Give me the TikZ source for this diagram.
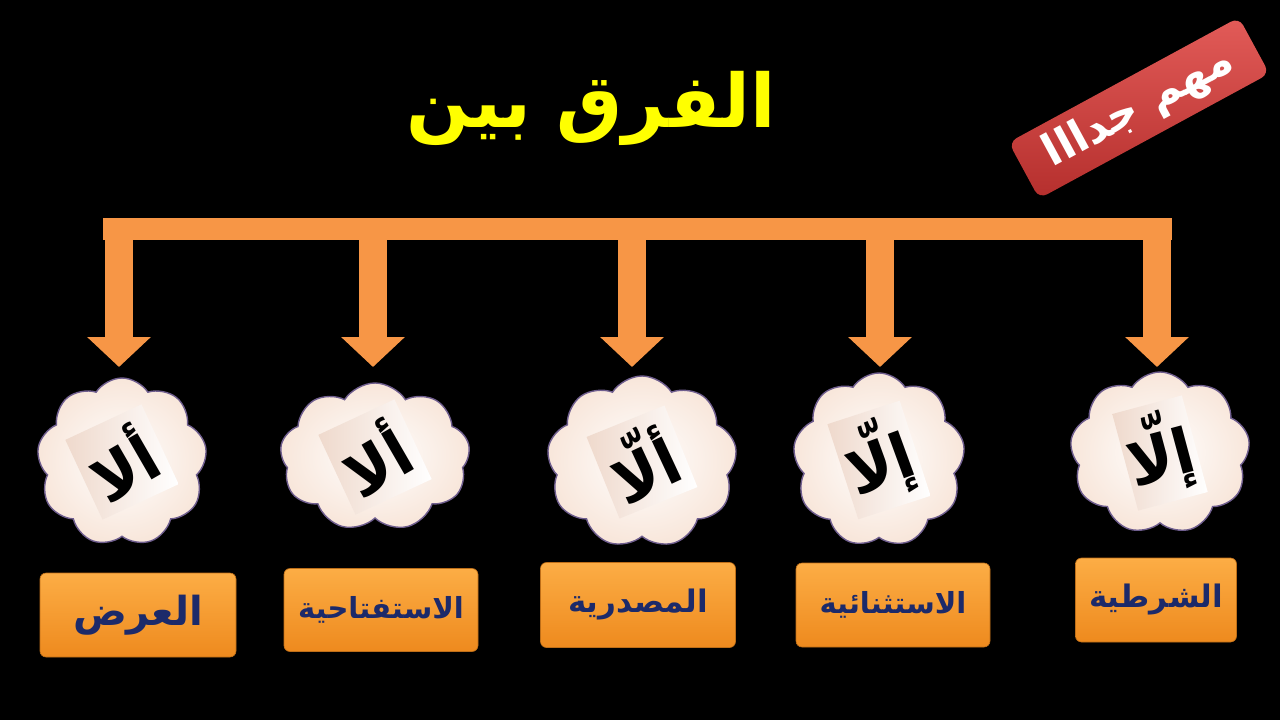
\documentclass[tikz,border=0pt]{standalone}
\usepackage{fontspec}
\usetikzlibrary{shapes.symbols,arrows.meta}
\newfontfamily\arabicfont[Script=Arabic]{DejaVu Sans}
\TeXXeTstate=1
\definecolor{barorange}{HTML}{F79646}
\definecolor{boxtop}{HTML}{FCAD45}
\definecolor{boxbot}{HTML}{EE8A1E}
\definecolor{navy}{HTML}{1C2A6A}
\definecolor{cloudline}{HTML}{6F5E8E}
\definecolor{cloudfill}{HTML}{F8E6DA}
\definecolor{paper}{HTML}{EFD9CC}
\definecolor{badgetop}{HTML}{E25B58}
\definecolor{badgebot}{HTML}{B52F2D}
\definecolor{titleyellow}{HTML}{FFFF00}
\tikzset{
  bararrow/.style={draw=barorange,line width=28pt,-{Triangle[length=30pt,width=62pt]}},
  cloudshape/.style={cloud,cloud puffs=9,cloud puff arc=115,aspect=1,inner sep=0pt,
    draw=cloudline,line width=1.4pt,inner color=white,outer color=cloudfill},
  paperbox/.style={rectangle,minimum width=84,minimum height=88,left color=paper,right color=white,draw=none},
  cloudtext/.style={text=black,font=\arabicfont\bfseries\fontsize{62}{66}\selectfont,inner sep=0pt},
  labelbox/.style={rectangle,rounded corners=6pt,top color=boxtop,bottom color=boxbot,
    draw=boxbot!80!black,line width=0.6pt,text=navy},
}
\begin{document}
\begin{tikzpicture}[x=1pt,y=-1pt]
\fill[black] (0,0) rectangle (1280,720);
\useasboundingbox (0,0) rectangle (1280,720);

% title
\node[text=titleyellow,font=\arabicfont\bfseries\fontsize{74}{80}\selectfont] (title) at (591,108) {\beginR الفرق بين\endR};

% badge
\node[rectangle,rounded corners=9pt,rotate=28.5,minimum width=262,minimum height=64,
  top color=badgetop,bottom color=badgebot,text=white,
  font=\arabicfont\bfseries\fontsize{44}{48}\selectfont] (badge) at (1139,108) {\beginR مهم جدااا\endR};

% horizontal bar
\node[rectangle,fill=barorange,minimum width=1069,minimum height=22,inner sep=0pt] (bar) at (637.5,229) {};

% arrow start / end coordinates
\foreach \i/\x in {1/119,2/373,3/632,4/880,5/1157}{
  \coordinate (s\i) at (\x,236);
  \coordinate (t\i) at (\x,367);
}
\foreach \i in {1,...,5}{\draw[bararrow] (s\i) -- (t\i);}

% clouds
\node[cloudshape,minimum width=170,minimum height=168] (c1) at (122,462) {};
\node[cloudshape,minimum width=190,minimum height=148] (c2) at (375,457) {};
\node[cloudshape,minimum width=190,minimum height=172] (c3) at (642,462) {};
\node[cloudshape,minimum width=172,minimum height=174] (c4) at (879,460) {};
\node[cloudshape,minimum width=180,minimum height=162] (c5) at (1160,453) {};

% paper
\node[paperbox,rotate=25] (p1) at (c1) {};
\node[paperbox,rotate=25] (p2) at (c2) {};
\node[paperbox,rotate=22] (p3) at (c3) {};
\node[paperbox,rotate=18,minimum width=76,minimum height=100] (p4) at (c4) {};
\node[paperbox,rotate=15,minimum width=72,minimum height=100] (p5) at (c5) {};

% cloud words
\node[cloudtext,rotate=30] (w1) at (c1) {\beginR ألا\endR};
\node[cloudtext,rotate=30] (w2) at (c2) {\beginR ألا\endR};
\node[cloudtext,rotate=25] (w3) at (c3) {\beginR ألّا\endR};
\node[cloudtext,rotate=20] (w4) at (c4) {\beginR إلّا\endR};
\node[cloudtext,rotate=15] (w5) at (c5) {\beginR إلّا\endR};

% label boxes
\node[labelbox,minimum width=196,minimum height=84,font=\arabicfont\bfseries\fontsize{40}{44}\selectfont] (b1) at (138,615) {\beginR العرض\endR};
\node[labelbox,minimum width=194,minimum height=83,font=\arabicfont\bfseries\fontsize{29}{32}\selectfont] (b2) at (381,610) {\beginR الاستفتاحية\endR};
\node[labelbox,minimum width=195,minimum height=85,font=\arabicfont\bfseries\fontsize{31}{34}\selectfont] (b3) at (638,605) {\beginR المصدرية\endR};
\node[labelbox,minimum width=194,minimum height=84,font=\arabicfont\bfseries\fontsize{29}{32}\selectfont] (b4) at (893,605) {\beginR الاستثنائية\endR};
\node[labelbox,minimum width=161,minimum height=84,font=\arabicfont\bfseries\fontsize{31}{34}\selectfont] (b5) at (1156,600) {\beginR الشرطية\endR};
\end{tikzpicture}
\end{document}
